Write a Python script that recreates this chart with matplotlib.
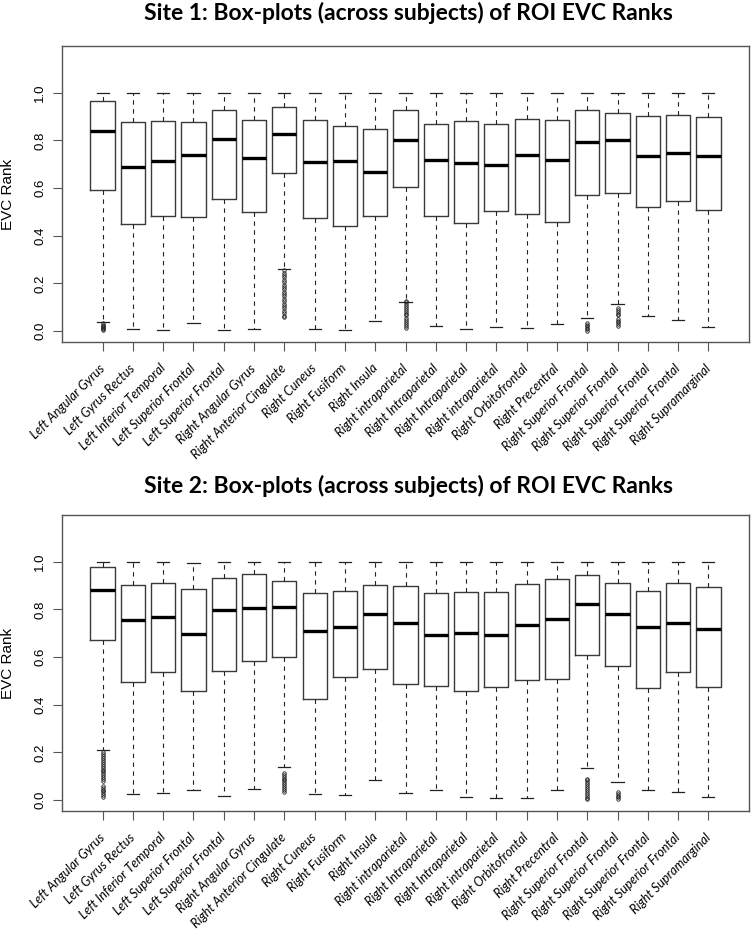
import numpy as np
import matplotlib
matplotlib.use("Agg")
import matplotlib.pyplot as plt

# ROI labels (same for both sites)
rois = ["Left Angular Gyrus", "Left Gyrus Rectus", "Left Inferior Temporal",
        "Left Superior Frontal", "Left Superior Frontal", "Right Angular Gyrus",
        "Right Anterior Cingulate", "Right Cuneus", "Right Fusiform", "Right Insula",
        "Right intraparietal", "Right Intraparietal", "Right Intraparietal",
        "Right intraparietal", "Right Orbitofrontal", "Right Precentral",
        "Right Superior Frontal", "Right Superior Frontal", "Right Superior Frontal",
        "Right Superior Frontal", "Right Supramarginal"]

# Site 1 box statistics
s1_med = [0.841, 0.690, 0.715, 0.738, 0.807, 0.724, 0.828, 0.708, 0.715, 0.667, 0.801,
          0.717, 0.705, 0.695, 0.738, 0.717, 0.794, 0.801, 0.736, 0.747, 0.733]
s1_q1 = [0.593, 0.450, 0.484, 0.480, 0.555, 0.501, 0.664, 0.474, 0.441, 0.484, 0.603,
         0.484, 0.455, 0.505, 0.492, 0.459, 0.571, 0.580, 0.520, 0.547, 0.509]
s1_q3 = [0.966, 0.878, 0.881, 0.878, 0.927, 0.884, 0.938, 0.884, 0.862, 0.846, 0.927,
         0.867, 0.880, 0.867, 0.890, 0.887, 0.926, 0.913, 0.902, 0.908, 0.898]
s1_lo = [0.038, 0.010, 0.006, 0.034, 0.006, 0.010, 0.262, 0.010, 0.003, 0.041, 0.123,
         0.020, 0.010, 0.017, 0.013, 0.028, 0.056, 0.115, 0.063, 0.045, 0.017]
s1_hi = [1.0] * 21
s1_out = {
    0: [0.032, 0.027, 0.022, 0.017, 0.012, 0.007, 0.003],
    6: [0.255, 0.245, 0.235, 0.225, 0.215, 0.205, 0.195, 0.185, 0.175, 0.165, 0.155,
        0.145, 0.135, 0.125, 0.115, 0.105, 0.095, 0.085, 0.075, 0.065, 0.058],
    10: [0.128, 0.120, 0.112, 0.104, 0.096, 0.088, 0.080, 0.072, 0.066,
         0.054, 0.046, 0.038, 0.030, 0.022, 0.014],
    16: [0.032, 0.026, 0.020, 0.014, 0.008, 0.002],
    17: [0.095, 0.088, 0.080, 0.072, 0.066, 0.052, 0.044, 0.036, 0.028, 0.022],
}

# Site 2 box statistics
s2_med = [0.880, 0.754, 0.768, 0.698, 0.796, 0.804, 0.810, 0.708, 0.724, 0.779, 0.741,
          0.691, 0.701, 0.691, 0.733, 0.761, 0.821, 0.780, 0.724, 0.741, 0.717]
s2_q1 = [0.670, 0.495, 0.538, 0.457, 0.543, 0.585, 0.599, 0.424, 0.517, 0.550, 0.488,
         0.477, 0.456, 0.473, 0.503, 0.506, 0.608, 0.561, 0.470, 0.538, 0.476]
s2_q3 = [0.979, 0.903, 0.909, 0.885, 0.930, 0.947, 0.920, 0.867, 0.876, 0.901, 0.897,
         0.867, 0.873, 0.871, 0.905, 0.929, 0.945, 0.909, 0.876, 0.909, 0.895]
s2_lo = [0.208, 0.024, 0.031, 0.042, 0.015, 0.046, 0.138, 0.024, 0.021, 0.084, 0.031,
         0.043, 0.011, 0.010, 0.007, 0.041, 0.134, 0.074, 0.041, 0.032, 0.014]
s2_hi = [1.0, 1.0, 1.0, 0.996, 1.0, 1.0, 1.0, 1.0, 1.0, 1.0, 1.0,
         1.0, 1.0, 1.0, 1.0, 1.0, 1.0, 1.0, 1.0, 1.0, 1.0]
s2_out = {
    0: [0.200, 0.192, 0.184, 0.176, 0.168, 0.160, 0.152, 0.144, 0.136, 0.128, 0.120,
        0.112, 0.104, 0.096, 0.088, 0.080, 0.060, 0.052, 0.044, 0.036, 0.028, 0.020, 0.014],
    6: [0.114, 0.106, 0.098, 0.090, 0.082, 0.074, 0.066, 0.058, 0.050, 0.042, 0.034],
    16: [0.090, 0.082, 0.074, 0.066, 0.058, 0.050, 0.042, 0.034, 0.026, 0.018, 0.010, 0.003],
    17: [0.033, 0.026, 0.019, 0.012, 0.005],
}

titles = ["Site 1: Box-plots (across subjects) of ROI EVC Ranks",
          "Site 2: Box-plots (across subjects) of ROI EVC Ranks"]


def make_stats(med, q1, q3, lo, hi, out):
    stats = []
    for i in range(len(med)):
        stats.append({"med": med[i], "q1": q1[i], "q3": q3[i],
                      "whislo": lo[i], "whishi": hi[i],
                      "fliers": np.array(out.get(i, []))})
    return stats


W, H = 753, 932
fig = plt.figure(figsize=(W / 100, H / 100), dpi=100)

panels = [(make_stats(s1_med, s1_q1, s1_q3, s1_lo, s1_hi, s1_out), 342, 13),
          (make_stats(s2_med, s2_q1, s2_q3, s2_lo, s2_hi, s2_out), 811, 486)]

pos = np.arange(1, len(rois) + 1)
for k, (stats, bottom_px, title_px) in enumerate(panels):
    ax = fig.add_axes([62 / W, 1 - bottom_px / H, 687 / W, 296 / H])
    ax.bxp(stats, positions=pos, widths=0.8, capwidths=0.4,
           boxprops=dict(color="#3a3a3a", lw=1.0),
           medianprops=dict(color="black", lw=2.4, solid_capstyle="butt"),
           whiskerprops=dict(color="#222222", lw=0.8, linestyle=(0, (4, 4))),
           capprops=dict(color="#222222", lw=0.9),
           flierprops=dict(marker="o", markersize=2.5, markerfacecolor="none",
                           markeredgecolor="#222222", markeredgewidth=0.6))
    ax.set_xlim(-0.34, 22.34)
    ax.set_ylim(-0.046, 1.196)
    for sp in ax.spines.values():
        sp.set_color("#555555")
        sp.set_linewidth(1.0)

    ax.set_yticks([0.0, 0.2, 0.4, 0.6, 0.8, 1.0])
    ax.set_yticklabels(["0.0", "0.2", "0.4", "0.6", "0.8", "1.0"],
                       rotation=90, va="center", family="Liberation Sans", fontsize=9.5)
    ax.tick_params(axis="y", length=6.5, width=0.8, color="#555555", pad=5)

    ax.set_xticks(pos)
    ax.set_xticklabels(rois, rotation=45, ha="right", va="center",
                       rotation_mode="anchor", family="Lato", style="italic",
                       fontsize=9.2)
    ax.tick_params(axis="x", length=6.5, width=0.8, color="#555555", pad=11)

    fig.text(8 / W, 1 - (bottom_px - 148) / H, "EVC Rank", rotation=90,
             ha="center", va="center", family="Liberation Sans", fontsize=11)
    fig.text(408 / W, 1 - title_px / H, titles[k], ha="center", va="center",
             family="Lato", fontweight="bold", fontsize=16.5)

fig.savefig("out.png", dpi=100)
